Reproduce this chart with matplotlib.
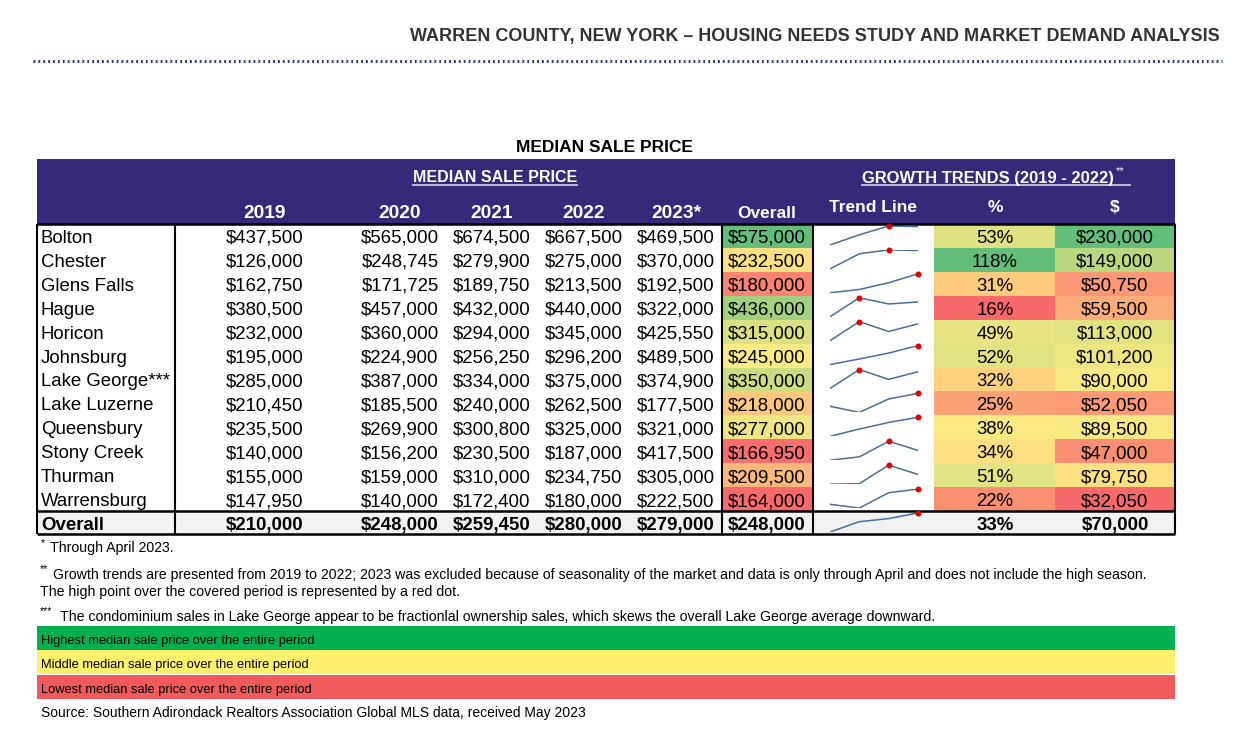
import matplotlib
matplotlib.use("Agg")
import matplotlib.pyplot as plt
import matplotlib.patches as patches
from matplotlib import font_manager as fm
from matplotlib.colors import LinearSegmentedColormap, to_hex
import numpy as np

# ---- data ----
towns = ["Bolton", "Chester", "Glens Falls", "Hague", "Horicon", "Johnsburg",
         "Lake George***", "Lake Luzerne", "Queensbury", "Stony Creek",
         "Thurman", "Warrensburg"]
years = ["2019", "2020", "2021", "2022", "2023*"]
p2019 = [437500, 126000, 162750, 380500, 232000, 195000, 285000, 210450, 235500, 140000, 155000, 147950]
p2020 = [565000, 248745, 171725, 457000, 360000, 224900, 387000, 185500, 269900, 156200, 159000, 140000]
p2021 = [674500, 279900, 189750, 432000, 294000, 256250, 334000, 240000, 300800, 230500, 310000, 172400]
p2022 = [667500, 275000, 213500, 440000, 345000, 296200, 375000, 262500, 325000, 187000, 234750, 180000]
p2023 = [469500, 370000, 192500, 322000, 425550, 489500, 374900, 177500, 321000, 417500, 305000, 222500]
overall = [575000, 232500, 180000, 436000, 315000, 245000, 350000, 218000, 277000, 166950, 209500, 164000]
growth_pct = [53, 118, 31, 16, 49, 52, 32, 25, 38, 34, 51, 22]
growth_usd = [230000, 149000, 50750, 59500, 113000, 101200, 90000, 52050, 89500, 47000, 79750, 32050]
total_row = [210000, 248000, 259450, 280000, 279000, 248000]
total_pct = 33
total_usd = 70000

legend_labels = ["Highest median sale price over the entire period",
                 "Middle median sale price over the entire period",
                 "Lowest median sale price over the entire period"]


def have(name):
    try:
        fm.findfont(fm.FontProperties(family=name), fallback_to_default=False)
        return True
    except Exception:
        return False


NARROW = "Liberation Sans Narrow" if have("Liberation Sans Narrow") else "Liberation Sans"
ARIAL = "Liberation Sans"

W, H = 1254, 747
fig = plt.figure(figsize=(W / 100, H / 100), dpi=100)
ax = fig.add_axes([0, 0, 1, 1])
ax.set_xlim(0, W)
ax.set_ylim(H, 0)
ax.axis("off")

PURPLE = "#352a7a"
money = lambda v: "${:,.0f}".format(v)

# excel style 3-colour scale (min red, median yellow, max green)
scale = LinearSegmentedColormap.from_list("xl", ["#f8696b", "#ffeb84", "#63be7b"])


def scale_colors(vals):
    vals = np.asarray(vals, dtype=float)
    lo, mid, hi = vals.min(), np.median(vals), vals.max()
    out = []
    for v in vals:
        if v <= mid:
            t = 0.5 * (v - lo) / (mid - lo)
        else:
            t = 0.5 + 0.5 * (v - mid) / (hi - mid)
        out.append(to_hex(scale(t)))
    return out


# ---- page header ----
ax.text(1220, 37, "WARREN COUNTY, NEW YORK \u2013 HOUSING NEEDS STUDY AND MARKET DEMAND ANALYSIS",
        family=NARROW, fontsize=13, fontweight="bold", color="#333333", ha="right", va="center")
ax.plot([33, 1222], [61, 61], color="#2e3a87", lw=2.2, linestyle=(0, (0.6, 1.0)))

ax.text(604, 148, "MEDIAN SALE PRICE", family=ARIAL, fontsize=12.5, fontweight="bold",
        ha="center", va="center")

# ---- table geometry ----
L, R = 37, 1175
top_hdr, top_body = 159, 224
row_h = (511 - 224) / 12
x_name = 175
x_ov0, x_ov1 = 722, 813
x_pct0, x_usd0 = 934, 1055
col_cx = [265, 400, 492, 584, 676]
ov_cx = 767
FS = 13.4

ax.add_patch(patches.Rectangle((L, top_hdr), R - L, top_body - top_hdr, color=PURPLE, lw=0))

renderer = fig.canvas.get_renderer()


def underlined(x, y, s, size):
    t = ax.text(x, y, s, family=ARIAL, fontsize=size, fontweight="bold", color="white",
                ha="center", va="center")
    return t.get_window_extent(renderer=renderer)


bb = underlined(495, 178, "MEDIAN SALE PRICE", 11.5)
ax.plot([bb.x0, bb.x1], [185, 185], color="#c8c4e0", lw=1.3)
bb = underlined(988, 178, "GROWTH TRENDS (2019 - 2022)", 11.9)
ax.text(bb.x1 + 2, 171, "**", family=ARIAL, fontsize=8, color="white", ha="left", va="center")
ax.plot([bb.x0, bb.x1 + 16], [185, 185], color="#c8c4e0", lw=1.3)

for cx, lab in zip(col_cx, years):
    ax.text(cx, 213, lab, family=ARIAL, fontsize=13.8, fontweight="bold", color="white",
            ha="center", va="center")
ax.text(ov_cx, 213, "Overall", family=ARIAL, fontsize=12.5, fontweight="bold", color="white",
        ha="center", va="center")
for cx, lab in zip([873, 995, 1115], ["Trend Line", "%", "$"]):
    ax.text(cx, 207, lab, family=ARIAL, fontsize=12.5, fontweight="bold", color="white",
            ha="center", va="center")

# ---- body ----
ov_cols = scale_colors(overall)
pct_cols = scale_colors(growth_pct)
usd_cols = scale_colors(growth_usd)
series = np.array([p2019, p2020, p2021, p2022, p2023]).T

for i, town in enumerate(towns):
    y0 = top_body + i * row_h
    yc = y0 + row_h / 2 + 2.5
    ax.add_patch(patches.Rectangle((x_ov0, y0), x_ov1 - x_ov0, row_h, color=ov_cols[i], lw=0))
    ax.add_patch(patches.Rectangle((x_pct0, y0), x_usd0 - x_pct0, row_h, color=pct_cols[i], lw=0))
    ax.add_patch(patches.Rectangle((x_usd0, y0), R - x_usd0, row_h, color=usd_cols[i], lw=0))
    ax.text(41, yc, town, family=ARIAL, fontsize=FS, ha="left", va="center")
    for cx, v in zip(col_cx, series[i]):
        ax.text(cx, yc, money(v), family=ARIAL, fontsize=FS, ha="center", va="center")
    ax.text(ov_cx, yc, money(overall[i]), family=ARIAL, fontsize=FS, ha="center", va="center")
    ax.text(995, yc, "{}%".format(growth_pct[i]), family=ARIAL, fontsize=FS, ha="center", va="center")
    ax.text(1115, yc, money(growth_usd[i]), family=ARIAL, fontsize=FS, ha="center", va="center")

# overall row
ax.add_patch(patches.Rectangle((L, 511), R - L, 534 - 511, color="#f2f2f2", lw=0))
yc = (511 + 534) / 2 + 3
ax.text(41, yc, "Overall", family=ARIAL, fontsize=FS, fontweight="bold", ha="left", va="center")
for cx, v in zip(col_cx + [ov_cx], total_row):
    ax.text(cx, yc, money(v), family=ARIAL, fontsize=FS, fontweight="bold", ha="center", va="center")
ax.text(995, yc, "{}%".format(total_pct), family=ARIAL, fontsize=FS, fontweight="bold", ha="center", va="center")
ax.text(1115, yc, money(total_usd), family=ARIAL, fontsize=FS, fontweight="bold", ha="center", va="center")

# grid lines
k = dict(color="black", solid_capstyle="butt")
ax.plot([L, R], [top_body, top_body], lw=1.8, **k)
ax.plot([L, R], [511, 511], lw=1.8, **k)
ax.plot([L, R], [534, 534], lw=1.8, **k)
for x in [L, x_name, x_ov0, x_ov1, R]:
    ax.plot([x, x], [top_body, 534], lw=1.5, **k)

# ---- sparklines (2019-2022) ----
spark = [list(series[i, :4]) for i in range(12)] + [total_row[:4]]
for i, vals in enumerate(spark):
    y0 = top_body + i * row_h if i < 12 else 511
    sa = fig.add_axes([830 / W, 1 - (y0 + 21) / H, 88 / W, 19 / H])
    sa.axis("off")
    xs = np.arange(4)
    sa.plot(xs, vals, color="#4a6e9e", lw=1.1)
    j = int(np.argmax(vals))
    sa.plot(xs[j], vals[j], "o", color="#e00000", ms=3.3, clip_on=False)
    sa.set_xlim(0, 3)
    sa.set_ylim(min(vals), max(vals))

# ---- footnotes ----
fn = dict(family=NARROW, fontsize=10.15, ha="left", va="center")
sup = dict(family=NARROW, fontsize=7.5, ha="left", va="center")
ax.text(41, 543, "*", **sup)
ax.text(50, 548, "Through April 2023.", **fn)
ax.text(40, 569, "**", **sup)
ax.text(53, 575, "Growth trends are presented from 2019 to 2022; 2023 was excluded because of seasonality "
        "of the market and data is only through April and does not include the high season.", **fn)
ax.text(40, 592, "The high point over the covered period is represented by a red dot.", **fn)
ax.text(40, 611, "***", **sup)
ax.text(60, 617, "The condominium sales in Lake George appear to be fractionlal ownership sales, "
        "which skews the overall Lake George average downward.", **fn)

legend_cols = ["#00b050", "#fff06e", "#f05a5a"]
for i, (lab, c) in enumerate(zip(legend_labels, legend_cols)):
    y0 = 626 + i * 24.3
    ax.add_patch(patches.Rectangle((L, y0), R - L, 24, color=c, lw=0))
    ax.text(41, y0 + 15, lab, family=NARROW, fontsize=9.3, ha="left", va="center")

ax.text(41, 713, "Source: Southern Adirondack Realtors Association Global MLS data, received May 2023",
        family=NARROW, fontsize=10.0, ha="left", va="center")

fig.savefig("out.png", dpi=100)
